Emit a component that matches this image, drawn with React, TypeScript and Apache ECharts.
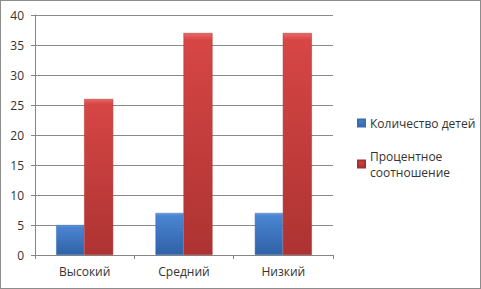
import React, { useEffect, useRef } from "react";
import * as echarts from "echarts";

const categories = ["Высокий", "Средний", "Низкий"];
const seriesNames = ["Количество детей", "Процентное соотношение"];
const childrenCount = [5, 7, 7];
const percentShare = [26, 37, 37];

export default function App() {
  const ref = useRef<HTMLDivElement>(null);
  useEffect(() => {
    document.body.style.margin = "0";
    const chart = echarts.init(ref.current!, null, { renderer: "svg" });
    const font = "'Open Sans', 'Noto Sans', sans-serif";
    const textColor = "#333333";
    const blue = new echarts.graphic.LinearGradient(0, 0, 0, 1, [
      { offset: 0, color: "#6a9fe2" },
      { offset: 0.06, color: "#4a84d2" },
      { offset: 1, color: "#2f62a6" },
    ]);
    const red = new echarts.graphic.LinearGradient(0, 0, 0, 1, [
      { offset: 0, color: "#ea6866" },
      { offset: 0.03, color: "#d64645" },
      { offset: 1, color: "#ad3332" },
    ]);
    chart.setOption({
      animation: false,
      textStyle: { fontFamily: font },
      grid: { left: 34, top: 14, right: 147, bottom: 33, containLabel: false },
      legend: {
        orient: "vertical",
        left: 351,
        top: 109,
        itemWidth: 7,
        itemHeight: 7,
        itemGap: 9,
        itemTextGap: 4,
        icon: "rect",
        textStyle: { fontFamily: font, fontSize: 12, color: textColor, lineHeight: 16 },
        formatter: (name: string) => (name === seriesNames[1] ? name.replace(" ", "\n") : name),
        data: [
          { name: seriesNames[0] },
          { name: seriesNames[1], textStyle: { padding: [16, 0, 0, 0] } },
        ],
      },
      xAxis: {
        type: "category",
        data: categories,
        axisLine: { lineStyle: { color: "#868686" } },
        axisTick: { show: true, length: 4, lineStyle: { color: "#868686" } },
        axisLabel: { color: textColor, fontSize: 12, margin: 10, fontFamily: font },
      },
      yAxis: {
        type: "value",
        min: 0,
        max: 40,
        interval: 5,
        axisLine: { show: true, lineStyle: { color: "#868686" } },
        axisTick: { show: true, length: 4, lineStyle: { color: "#868686" } },
        axisLabel: { color: textColor, fontSize: 12, margin: 11, fontFamily: font },
        splitLine: { lineStyle: { color: "#8a8a8a" } },
      },
      series: [
        {
          name: seriesNames[0],
          type: "bar",
          data: childrenCount,
          barWidth: 28,
          barGap: "0%",
          itemStyle: { color: blue, borderColor: "#3a6cb0", borderWidth: 0.5 },
        },
        {
          name: seriesNames[1],
          type: "bar",
          data: percentShare,
          barWidth: 29,
          barGap: "0%",
          itemStyle: { color: red, borderColor: "#a83030", borderWidth: 0.5 },
        },
      ],
    });
    return () => chart.dispose();
  }, []);
  return (
    <div
      style={{
        position: "absolute",
        left: 0,
        top: 0,
        width: 481,
        height: 289,
        boxSizing: "border-box",
        border: "1px solid #8c8c8c",
        background: "#fff",
      }}
    >
      <div ref={ref} style={{ width: 479, height: 287 }} />
    </div>
  );
}
